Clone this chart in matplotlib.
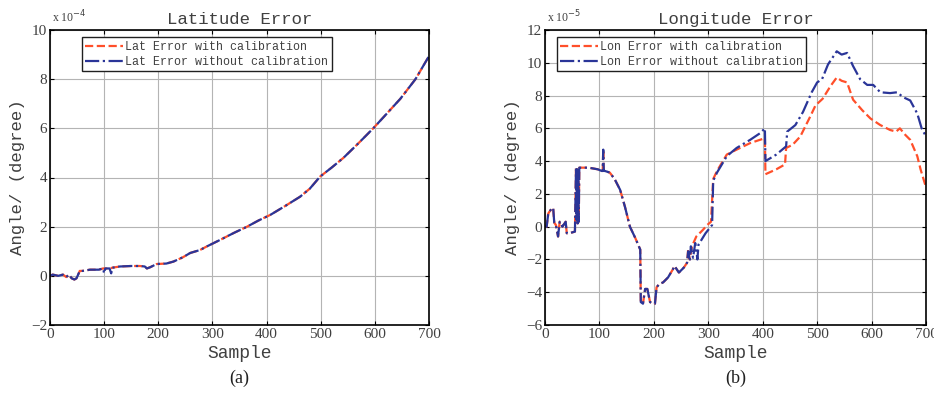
import matplotlib.pyplot as plt
import numpy as np

# sample index (x) and errors, in units of 1e-4 deg (lat) / 1e-5 deg (lon)
lat_x = [0, 5, 15, 24, 30, 35, 40, 45, 49, 55, 60, 74, 90, 98, 102, 110, 115, 129, 150, 166,
         175, 179, 185, 197, 215, 228, 245, 259, 277, 290, 314, 340, 364, 385, 407, 435,
         462, 480, 499, 520, 542, 570, 597, 620, 647, 675, 699]
lat_cal = [0, 0.05, 0, 0.05, -0.05, 0.05, -0.1, -0.15, -0.1, 0.2, 0.2, 0.25, 0.25, 0.3, 0.3,
           0.3, 0.33, 0.38, 0.4, 0.4, 0.38, 0.3, 0.35, 0.48, 0.5, 0.58, 0.75, 0.93, 1.05, 1.2,
           1.46, 1.75, 2.0, 2.25, 2.48, 2.85, 3.22, 3.55, 4.04, 4.4, 4.8, 5.4, 6.0, 6.55, 7.2,
           8.0, 8.9]
lat_x_nocal = [0, 5, 15, 24, 30, 35, 40, 45, 49, 55, 60, 74, 90, 98, 100, 102, 110, 113, 115,
               129, 150, 166, 175, 179, 185, 197, 215, 228, 245, 259, 277, 290, 314, 340, 364,
               385, 407, 435, 462, 480, 499, 520, 542, 570, 597, 620, 647, 675, 699]
lat_nocal = [0, 0.05, 0, 0.05, -0.05, 0.05, -0.1, -0.15, -0.1, 0.2, 0.2, 0.25, 0.25, 0.3, 0.1,
             0.3, 0.3, 0.1, 0.33, 0.38, 0.4, 0.4, 0.38, 0.3, 0.35, 0.48, 0.5, 0.58, 0.75, 0.93,
             1.05, 1.2, 1.46, 1.75, 2.0, 2.25, 2.48, 2.85, 3.22, 3.55, 4.04, 4.4, 4.8, 5.4, 6.0,
             6.55, 7.2, 8.0, 8.9]

# shared start of both longitude curves
lon_x_common = [0, 3, 6, 8, 12, 15, 17, 20, 24, 27, 32, 38, 40, 45, 55, 57, 58, 59, 60, 61, 62,
                63, 65, 80, 97, 104, 106, 107, 108, 110, 119, 128, 138, 147, 156, 166, 175, 176,
                180, 184, 188, 193, 198, 202, 205, 210, 217, 226, 235, 238, 246, 255, 261]
lon_common = [0, 0, 0.8, 0.9, 1.1, 1.15, 0.25, 0.1, -0.6, 0.3, 0, 0.3, -0.4, -0.4, -0.3, 3.6,
              0.4, 3.5, 0.2, 3.6, 0.3, 3.6, 3.6, 3.6, 3.5, 3.4, 3.4, 4.7, 3.4, 3.4, 3.3, 2.9,
              2.25, 1.2, 0, -0.7, -1.4, -4.6, -4.7, -3.8, -3.8, -4.6, -4.7, -4.7, -3.7, -3.5,
              -3.4, -3.1, -2.6, -2.4, -2.8, -2.5, -2.2]
lon_x_cal = [263, 266, 270, 278, 290, 298, 305, 309, 316, 334, 352, 377, 404, 405, 425, 441,
             443, 455, 469, 487, 497, 510, 525, 536, 545, 555, 566, 583, 598, 616, 634, 645,
             652, 662, 671, 684, 690, 700]
lon_cal = [-1.4, -2.0, -1.2, -0.6, -0.2, 0.1, 0.3, 2.9, 3.4, 4.4, 4.7, 5.1, 5.4, 3.2, 3.5,
           3.8, 4.8, 5.0, 5.5, 6.7, 7.4, 7.8, 8.6, 9.1, 8.9, 8.8, 7.75, 7.1, 6.6, 6.2, 5.9,
           5.8, 6.0, 5.6, 5.3, 4.3, 3.5, 2.4]
lon_x_nocal = [263, 266, 268, 272, 276, 280, 282, 295, 307, 309, 316, 334, 352, 377, 395, 404,
               405, 425, 443, 445, 460, 474, 490, 500, 509, 520, 536, 545, 555, 566, 579, 592,
               603, 616, 634, 647, 658, 671, 684, 692, 700]
lon_nocal = [-1.5, -2.1, -1.2, -1.9, -1.0, -2.0, -1.1, -0.4, 0.1, 2.8, 3.3, 4.3, 4.8, 5.3, 5.7,
             6.0, 4.0, 4.4, 4.9, 5.8, 6.2, 7.0, 8.2, 8.8, 9.0, 9.9, 10.7, 10.5, 10.6, 9.8, 9.0,
             8.65, 8.65, 8.2, 8.15, 8.2, 7.9, 7.7, 6.9, 6.0, 5.5]

red = '#ff4f2a'
blue = '#2a3598'
txt = '#404040'
mono = 'Liberation Mono'
serif = 'Liberation Serif'

fig = plt.figure(figsize=(9.34, 3.96), dpi=100)
ax1 = fig.add_axes([50 / 934, 71 / 396, 379 / 934, 295 / 396])
ax2 = fig.add_axes([545 / 934, 71 / 396, 381 / 934, 295 / 396])


def style(ax, ylim, yticks, title, exp, tag, leg_x):
    ax.set_xlim(0, 700)
    ax.set_ylim(*ylim)
    ax.set_xticks(range(0, 701, 100))
    ax.set_yticks(yticks)
    ax.grid(True, color='#b4b4b4', lw=0.8)
    ax.set_axisbelow(True)
    ax.tick_params(direction='in', top=True, right=True, length=3, width=0.8,
                   labelsize=11, labelcolor=txt, pad=2)
    for lab in ax.get_xticklabels() + ax.get_yticklabels():
        lab.set_family(serif)
    for s in ax.spines.values():
        s.set_linewidth(1.2)
    ax.set_title(title, family=mono, fontsize=12.5, color=txt, pad=4)
    ax.set_xlabel('Sample', family=mono, fontsize=13, color=txt, labelpad=3)
    ax.set_ylabel('Angle/ (degree)', family=mono, fontsize=12.5, color=txt, labelpad=4)
    ax.text(0.005, 1.015, 'x 10$^{%s}$' % exp, transform=ax.transAxes, family=serif,
            fontsize=8.5, color=txt, va='bottom')
    ax.text(0.5, -0.15, tag, transform=ax.transAxes, ha='center', va='top',
            family=serif, fontsize=13, color='#202020')
    leg = ax.legend(loc='upper left', bbox_to_anchor=(leg_x, 0.975), prop={'family': mono, 'size': 8.4},
                    fancybox=False, edgecolor='#202020', framealpha=1, handlelength=3.2,
                    handletextpad=0.2, borderpad=0.3, labelspacing=0.25, borderaxespad=0)
    leg.get_frame().set_linewidth(1.0)
    for t in leg.get_texts():
        t.set_color(txt)


ax1.plot(lat_x, lat_cal, color=red, ls='--', lw=1.6, label='Lat Error with calibration')
ax1.plot(lat_x_nocal, lat_nocal, color=blue, ls='-.', lw=1.6, label='Lat Error without calibration')
style(ax1, (-2, 10), range(-2, 11, 2), 'Latitude Error', '-4', '(a)', 0.084)

ax2.plot(lon_x_common + lon_x_cal, lon_common + lon_cal, color=red, ls='--', lw=1.6,
         label='Lon Error with calibration')
ax2.plot(lon_x_common + lon_x_nocal, lon_common + lon_nocal, color=blue, ls='-.', lw=1.6,
         label='Lon Error without calibration')
style(ax2, (-6, 12), range(-6, 13, 2), 'Longitude Error', '-5', '(b)', 0.031)

fig.savefig('out.png', dpi=100)
